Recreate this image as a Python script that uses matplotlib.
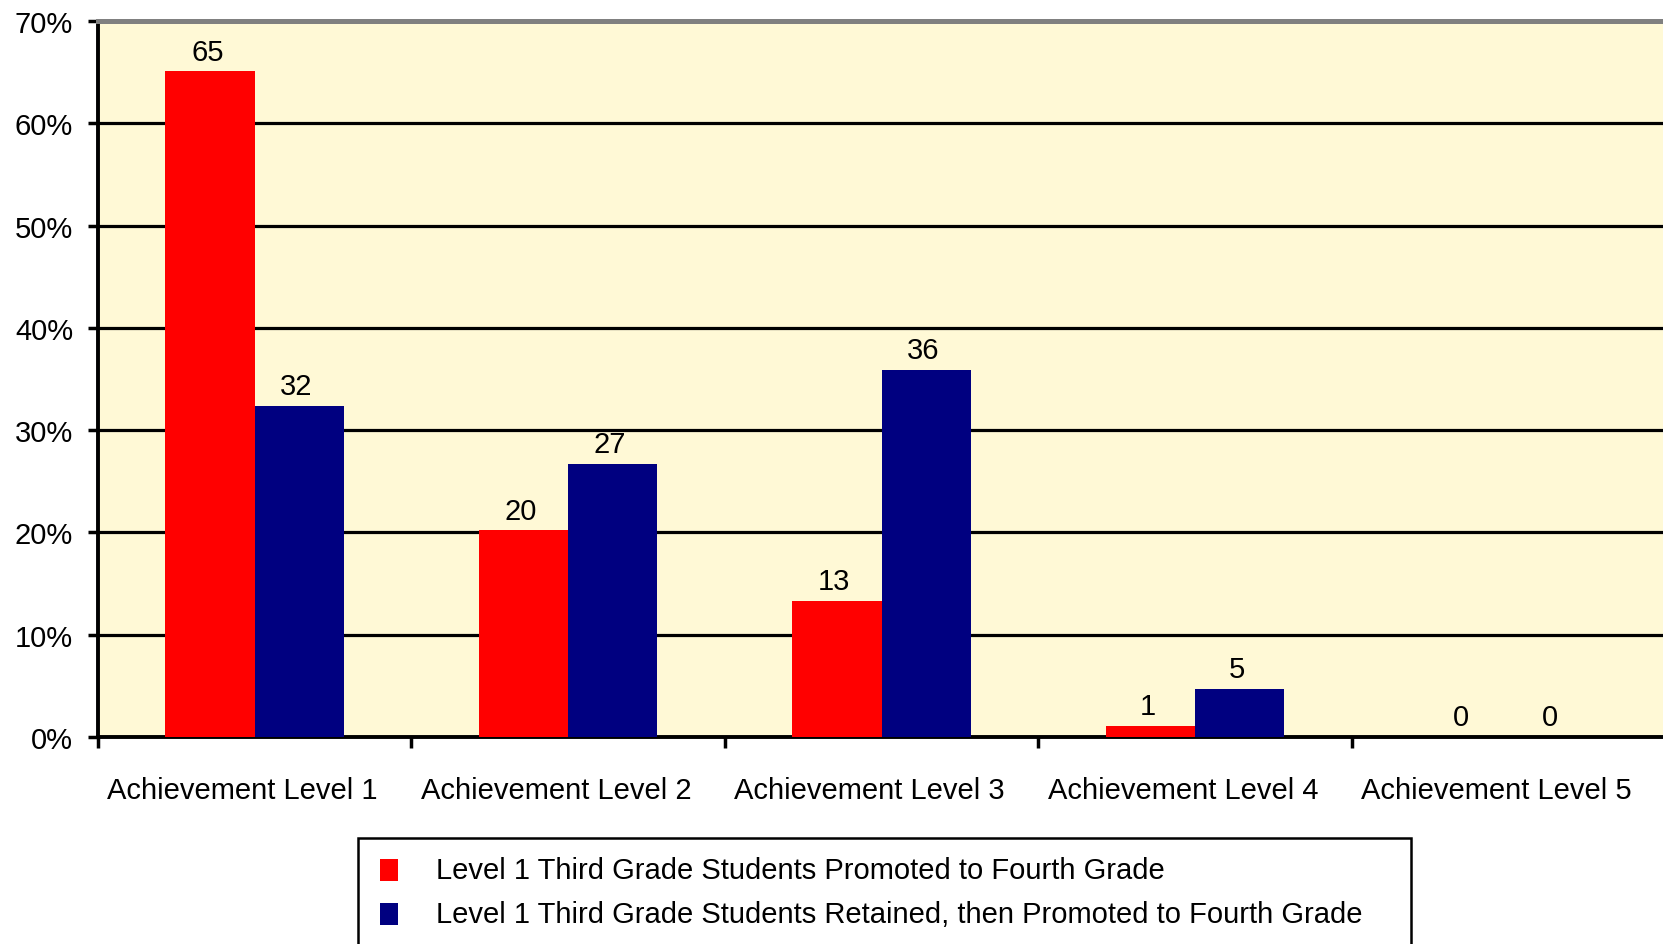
import matplotlib
matplotlib.use("Agg")
import matplotlib.pyplot as plt
import matplotlib.transforms as mtransforms
from matplotlib.patches import Rectangle
import numpy as np

categories = ["Achievement Level 1", "Achievement Level 2", "Achievement Level 3",
              "Achievement Level 4", "Achievement Level 5"]
series_names = ["Level 1 Third Grade Students Promoted to Fourth Grade",
                "Level 1 Third Grade Students Retained, then Promoted to Fourth Grade"]
promoted = [65.1, 20.2, 13.3, 1.1, 0.0]
retained = [32.4, 26.7, 35.9, 4.7, 0.0]
promoted_labels = ["65", "20", "13", "1", "0"]
retained_labels = ["32", "27", "36", "5", "0"]
yticks = [0, 10, 20, 30, 40, 50, 60, 70]
ytick_labels = ["0%", "10%", "20%", "30%", "40%", "50%", "60%", "70%"]
colors = ["#FF0000", "#000080"]

plt.rcParams['font.family'] = ['Liberation Sans', 'DejaVu Sans']
FS = 21

fig = plt.figure(figsize=(16.63, 9.45), dpi=100)
W, H = 1663, 945
left, right, top, bottom = 98, 1665, 22, 738
ax = fig.add_axes([left / W, 1 - bottom / H, (right - left) / W, (bottom - top) / H])
ax.set_facecolor("#FFF9D6")

x = np.arange(len(categories)) + 0.5
bw = 0.285
for vals, labs, col, off in [(promoted, promoted_labels, colors[0], -bw / 2),
                             (retained, retained_labels, colors[1], bw / 2)]:
    bars = ax.bar(x + off, vals, width=bw, color=col, zorder=3, linewidth=0)
    for b, lab in zip(bars, labs):
        ax.annotate(lab, (b.get_x() + b.get_width() / 2, b.get_height()),
                    xytext=(-2, 4), textcoords="offset points",
                    ha="center", va="bottom", fontsize=FS, color="black", zorder=4)

ax.set_xlim(0, len(categories))
ax.set_ylim(0, 70)
ax.set_yticks(yticks)
ax.set_yticklabels(ytick_labels, fontsize=FS)
ax.yaxis.grid(True, color="black", linewidth=2.3, zorder=1)
ax.set_axisbelow(True)

ax.set_xticks(np.arange(len(categories) + 1))
ax.set_xticklabels([])
ax.set_xticks(x, minor=True)
ax.set_xticklabels(categories, minor=True, fontsize=FS)
ax.tick_params(axis="x", which="minor", length=0, pad=28)
ax.tick_params(axis="x", which="major", length=8, width=2.5, direction="out")
ax.tick_params(axis="y", length=7, width=2.5, pad=11)
shift = mtransforms.ScaledTranslation(-12 / 100, 0, fig.dpi_scale_trans)
for lab in ax.get_xticklabels(minor=True):
    lab.set_transform(lab.get_transform() + shift)

for s in ["left", "bottom"]:
    ax.spines[s].set_linewidth(2.8)
    ax.spines[s].set_color("black")
ax.spines["top"].set_linewidth(3.6)
ax.spines["top"].set_color("#808080")
ax.spines["right"].set_visible(False)

# legend box
lx0, ly0, lx1, ly1 = 358, 839, 1411, 960
fig.patches.append(Rectangle((lx0 / W, 1 - ly1 / H), (lx1 - lx0) / W, (ly1 - ly0) / H,
                             transform=fig.transFigure, facecolor="white",
                             edgecolor="black", linewidth=1.8))
for i, (name, col) in enumerate(zip(series_names, colors)):
    yc = 871 + i * 44
    fig.patches.append(Rectangle((380 / W, 1 - (yc + 11) / H), 18 / W, 22 / H,
                                 transform=fig.transFigure, facecolor=col, edgecolor="none"))
    fig.text(436 / W, 1 - yc / H, name, fontsize=FS, va="center", ha="left")

fig.savefig("out.png", dpi=100)
